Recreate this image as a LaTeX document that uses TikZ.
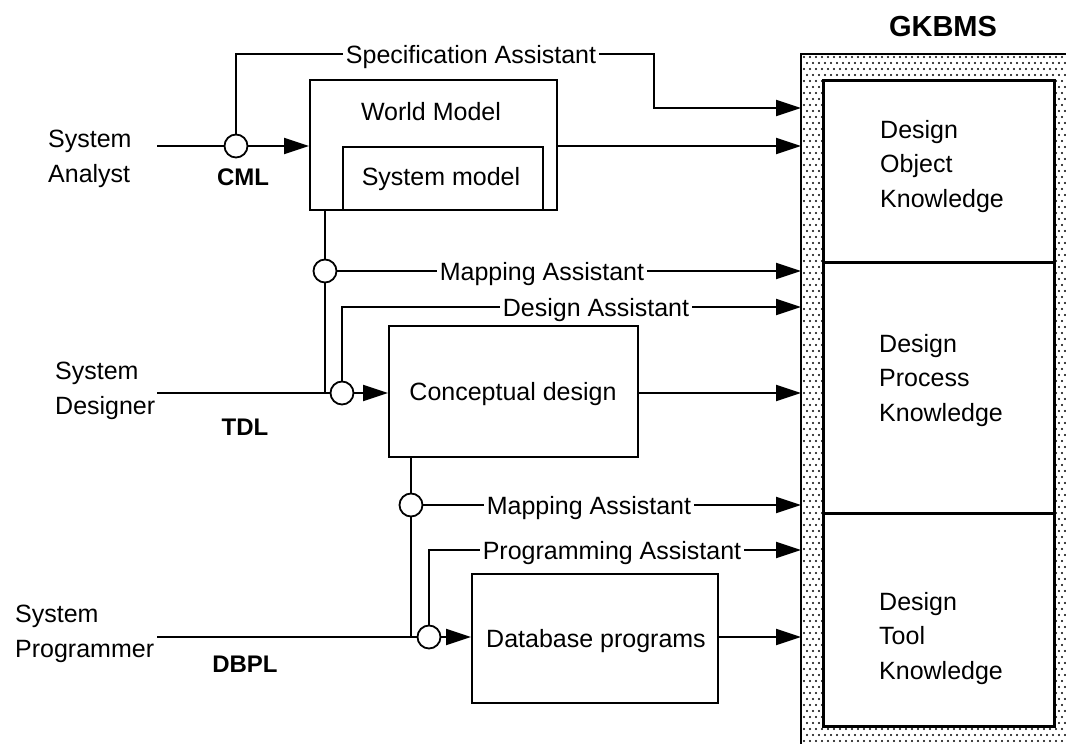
\documentclass[tikz,border=0pt]{standalone}
\usepackage{fontspec}
\setmainfont{Liberation Sans}
\usetikzlibrary{arrows.meta,backgrounds}
\tikzset{
  conn/.style={line width=1.9pt},
  arr/.style={line width=1.9pt,-{Triangle[length=25pt,width=16pt]}},
  circ/.style={circle,draw,fill=white,line width=1.8pt,minimum size=23pt,inner sep=0pt},
  box/.style={draw,line width=2.2pt,anchor=north west,inner sep=0pt},
  txt/.style={font=\fontsize{25}{34.5}\selectfont,inner sep=0pt},
  multi/.style={txt,align=left,anchor=north west},
  lab/.style={txt,text height=18pt,text depth=0pt,inner xsep=3pt,inner ysep=0pt},
  bold/.style={font=\fontsize{24}{28}\selectfont\bfseries,inner sep=0pt,anchor=base},
}
\begin{document}
\begin{tikzpicture}[x=1pt,y=-1pt]
\useasboundingbox (0,0) rectangle (1066,744);

% GKBMS block
\node[anchor=north west,minimum width=270,minimum height=700,inner sep=0pt] (gkb) at (801,54) {};
\begin{scope}
\clip (gkb.north west) rectangle (gkb.south east);
\foreach \i in {0,...,44} {
  \fill \foreach \j in {0,...,58} {
    (804+6*\i,57+12*\j) circle (1.2pt) (807+6*\i,63+12*\j) circle (1.2pt)};
}
\end{scope}
\draw[line width=1.5pt] (gkb.south west) -- (gkb.north west) -- (gkb.north east);
\node[box,fill=white,line width=2.6pt,minimum width=231,minimum height=182] (gk1) at (822,79) {};
\node[box,fill=white,line width=2.6pt,minimum width=231,minimum height=251] (gk2) at (822,261) {};
\node[box,fill=white,line width=2.6pt,minimum width=231,minimum height=213] (gk3) at (822,512) {};
\node[font=\fontsize{29}{32}\selectfont\bfseries,inner sep=0pt,anchor=base] (gkt) at (943,36) {GKBMS};
\node[multi] (dok) at (880,120) {Design\\Object\\Knowledge};
\node[multi] (dpk) at (879,334) {Design\\Process\\Knowledge};
\node[multi] (dtk) at (879,592) {Design\\Tool\\Knowledge};

% actors
\node[multi] (sa) at (48,130) {System\\Analyst};
\node[multi] (sd) at (55,362) {System\\Designer};
\node[multi] (sp) at (15,605) {System\\Programmer};
\coordinate (sa0) at (157,146);
\coordinate (sd0) at (157,393);
\coordinate (sp0) at (157,637);

% language labels
\node[bold] (cml) at (243,185) {CML};
\node[bold] (tdl) at (245,435) {TDL};
\node[bold] (dbpl) at (245,672) {DBPL};

% boxes
\node[box,minimum width=247,minimum height=130] (wm) at (309,79) {};
\node[txt,anchor=base] (wmt) at (431,120) {World Model};
\node[box,minimum width=200,minimum height=63] (sm) at (342,146) {};
\node[txt,anchor=base] (smt) at (441,185) {System model};
\node[box,minimum width=249,minimum height=131] (cd) at (388,325) {};
\node[txt,anchor=base] (cdt) at (513,400) {Conceptual design};
\node[box,minimum width=246,minimum height=129] (db) at (471,573) {};
\node[txt,anchor=base] (dbt) at (596,647) {Database programs};

% junction circles
\node[circ] (c1) at (236,146) {};
\node[circ] (c2) at (325,271) {};
\node[circ] (c3) at (342,393) {};
\node[circ] (c4) at (411,505) {};
\node[circ] (c5) at (429,637) {};
\coordinate (k1) at (654,108);

% assistant labels
\node[lab] (spec) at (471,54) {Specification Assistant};
\node[lab] (m1) at (542,271) {Mapping Assistant};
\node[lab] (da) at (596,307) {Design Assistant};
\node[lab] (m2) at (589,505) {Mapping Assistant};
\node[lab] (pa) at (612,550) {Programming Assistant};

\begin{scope}[on background layer]
% analyst row
\draw[conn] (sa0) -- (c1.west);
\draw[arr] (c1.east) -- (c1.east -| wm.west);
\draw[arr] (c1 -| wm.east) -- (c1 -| gkb.west);
\draw[conn] (c1.north) |- (spec.west);
\draw[arr] (spec.east) -| (k1) -- (k1 -| gkb.west);
% designer row
\draw[conn] (c2 |- wm.south) -- (c2 |- c3);
\draw[conn] (c2.east) -- (m1.west);
\draw[arr] (m1.east) -- (m1.east -| gkb.west);
\draw[conn] (sd0) -- (c3.west);
\draw[conn] (c3.north) |- (da.west);
\draw[arr] (da.east) -- (da.east -| gkb.west);
\draw[arr] (c3.east) -- (c3.east -| cd.west);
\draw[arr] (c3 -| cd.east) -- (c3 -| gkb.west);
% programmer row
\draw[conn] (c4 |- cd.south) -- (c4 |- c5);
\draw[conn] (c4.east) -- (m2.west);
\draw[arr] (m2.east) -- (m2.east -| gkb.west);
\draw[conn] (sp0) -- (c5.west);
\draw[conn] (c5.north) |- (pa.west);
\draw[arr] (pa.east) -- (pa.east -| gkb.west);
\draw[arr] (c5.east) -- (c5.east -| db.west);
\draw[arr] (c5 -| db.east) -- (c5 -| gkb.west);
\end{scope}
\end{tikzpicture}
\end{document}
